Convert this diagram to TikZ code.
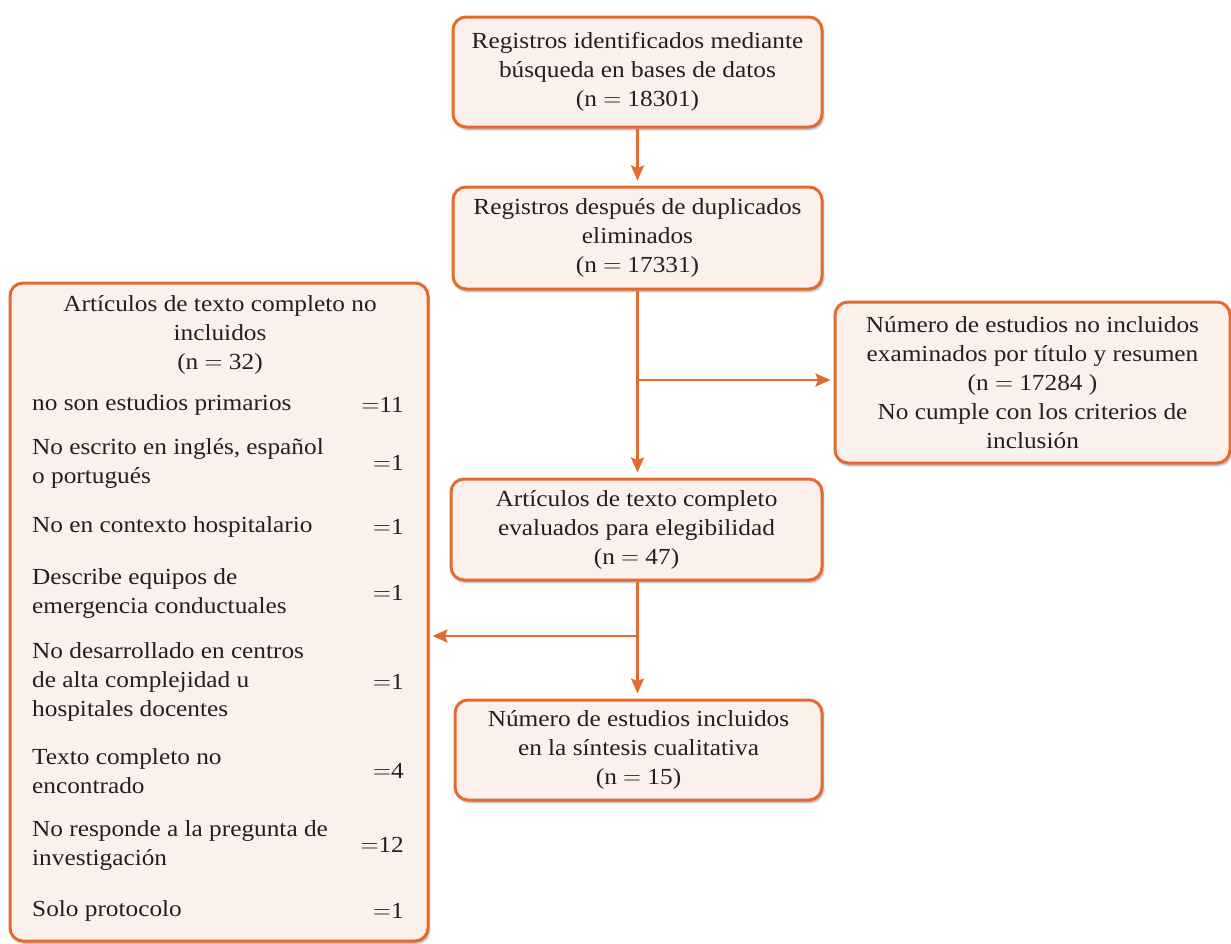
\documentclass[tikz,border=0pt]{standalone}
\usepackage{fontspec}
\setmainfont{Liberation Serif}[FakeStretch=1.1]
\usetikzlibrary{arrows.meta,shadows.blur,calc}
\definecolor{boxor}{HTML}{E46B2F}
\definecolor{boxfill}{HTML}{FBF0EB}
\definecolor{txtc}{HTML}{231F20}
\newcommand\fsz{\fontsize{23}{29}\selectfont}
\newcommand\eqs{\ensuremath{=}}
\begin{document}
\begin{tikzpicture}[x=1pt,y=-1pt,
  box/.style={draw=boxor, line width=3pt, fill=boxfill, rounded corners=13pt,
    blur shadow={shadow xshift=1.5pt, shadow yshift=-2.5pt, shadow opacity=35, shadow blur steps=6},
    inner sep=0pt, align=center, font=\fsz, text=txtc},
  lbl/.style={inner sep=0pt, align=left, font=\fsz, text=txtc},
  val/.style={inner sep=0pt, anchor=east, font=\fsz, text=txtc},
  arr/.style={draw=boxor, line width=2.6pt, -{Stealth[length=15pt,width=13pt,inset=2.5pt]}, shorten >=5pt}]
\useasboundingbox (0,0) rectangle (1231,943);

\node[box, minimum width=369pt, minimum height=110pt] (b1) at (637.5,72)
  {Registros identificados mediante\\búsqueda en bases de datos\\(n \eqs{} 18301)};
\node[box, minimum width=369pt, minimum height=102pt] (b2) at (637.5,238)
  {Registros después de duplicados\\eliminados\\(n \eqs{} 17331)};
\node[box, minimum width=395pt, minimum height=161pt] (rt) at (1032.5,382.5)
  {Número de estudios no incluidos\\examinados por título y resumen\\(n \eqs{} 17284 )\hspace*{36pt}\\No cumple con los criterios de\\inclusión};
\node[box, minimum width=371pt, minimum height=101pt] (b3) at (636.5,529.5)
  {Artículos de texto completo\\evaluados para elegibilidad\\(n \eqs{} 47)};
\node[box, minimum width=367pt, minimum height=100pt] (b4) at (638.5,750)
  {Número de estudios incluidos\\en la síntesis cualitativa\\(n \eqs{} 15)};
\node[box, minimum width=418pt, minimum height=658pt] (ex) at (219,612) {};

\node[lbl, align=center] (ext) at (220,335) {Artículos de texto completo no\\incluidos\\(n \eqs{} 32)};
\node[lbl, anchor=west] (r1) at (32,405) {no son estudios primarios};
\node[val] (v1) at (404,405) {\eqs11};
\node[lbl, anchor=west] (r2) at (32,463) {No escrito en inglés, español\\o portugués};
\node[val] (v2) at (404,463) {\eqs1};
\node[lbl, anchor=west] (r3) at (32,527) {No en contexto hospitalario};
\node[val] (v3) at (404,527) {\eqs1};
\node[lbl, anchor=west] (r4) at (32,593) {Describe equipos de\\emergencia conductuales};
\node[val] (v4) at (404,593) {\eqs1};
\node[lbl, anchor=west] (r5) at (32,682) {No desarrollado en centros\\de alta complejidad u\\hospitales docentes};
\node[val] (v5) at (404,682) {\eqs1};
\node[lbl, anchor=west] (r6) at (32,771) {Texto completo no\\encontrado};
\node[val] (v6) at (404,771) {\eqs4};
\node[lbl, anchor=west] (r7) at (32,845) {No responde a la pregunta de\\investigación};
\node[val] (v7) at (404,845) {\eqs12};
\node[lbl, anchor=west] (r8) at (32,911) {Solo protocolo};
\node[val] (v8) at (404,911) {\eqs1};

\coordinate (j1) at (637.5,380);
\coordinate (j2) at (637.5,636);
\draw[arr] (b1.south) -- (b2.north);
\draw[arr] (b2.south) -- (b2.south |- b3.north);
\draw[arr, shorten >=3pt] (j1) -- (j1 -| rt.west);
\draw[arr] (b3.south -| j2) -- (j2 |- b4.north);
\draw[arr, shorten >=3pt] (j2) -- (j2 -| ex.east);
\end{tikzpicture}
\end{document}
